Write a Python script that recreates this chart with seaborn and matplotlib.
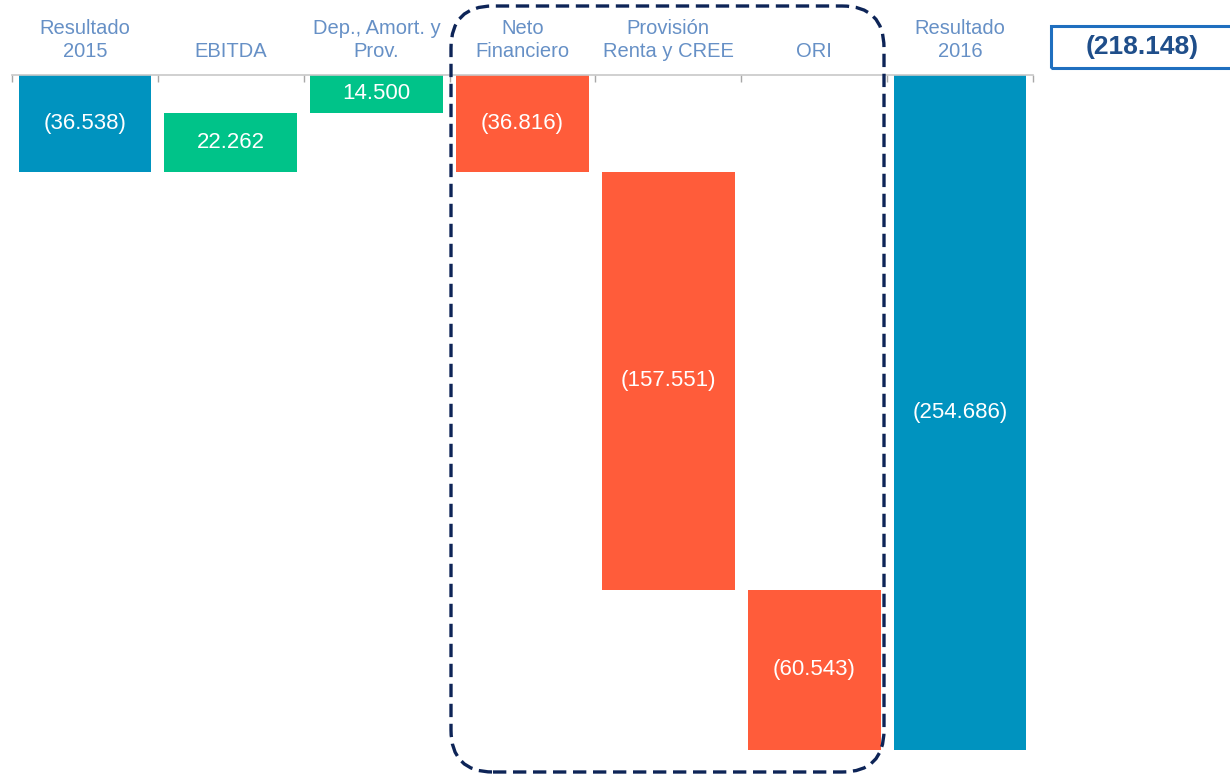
import matplotlib
matplotlib.use("Agg")
import matplotlib.pyplot as plt
from matplotlib.patches import FancyBboxPatch, Rectangle
from matplotlib.transforms import IdentityTransform
import seaborn as sns
import pandas as pd
import numpy as np

# Data (miles de millones)
categories = ["Resultado\n2015", "EBITDA", "Dep., Amort. y\nProv.", "Neto\nFinanciero",
              "Provisión\nRenta y CREE", "ORI", "Resultado\n2016"]
values = [-36.538, 22.262, 14.500, -36.816, -157.551, -60.543, -254.686]
kinds = ["total", "up", "up", "down", "down", "down", "total"]
highlight_text = "(218.148)"

colors = {"total": "#0093BF", "up": "#00C389", "down": "#FF5C3A"}
label_color = "#6690C6"

# Waterfall bottoms
bottoms = []
running = 0.0
for v, k in zip(values, kinds):
    if k == "total":
        bottoms.append(0.0)
        running = v
    else:
        bottoms.append(running)
        running += v

df = pd.DataFrame({"cat": categories, "value": values, "kind": kinds})

sns.set_theme(style="white")
plt.rcParams["font.family"] = ["Liberation Sans", "DejaVu Sans"]

W, H = 1230, 776
fig = plt.figure(figsize=(W / 100, H / 100), dpi=100)
ax = fig.add_axes([12 / W, 26 / H, 1021 / W, 675 / H])

sns.barplot(data=df, x="cat", y="value", hue="kind", palette=colors, dodge=False,
            width=0.91, legend=False, ax=ax, saturation=1, order=categories)

# shift bars to their waterfall bottoms
for p in ax.patches:
    cx = p.get_x() + p.get_width() / 2
    i = int(round(cx))
    p.set_y(bottoms[i])
    p.set_height(values[i])
    p.set_edgecolor("none")

for i, (v, b) in enumerate(zip(values, bottoms)):
    txt = f"({abs(v):.3f})" if v < 0 else f"{v:.3f}"
    ax.text(i, b + v / 2, txt, ha="center", va="center", color="white", fontsize=16)

ax.set_xlim(-0.5, len(categories) - 0.5)
ax.set_ylim(values[-1], 0)
ax.set_xlabel("")
ax.set_ylabel("")
ax.set_yticks([])

for s in ["left", "right", "bottom"]:
    ax.spines[s].set_visible(False)
ax.spines["top"].set_color("#C8C8C8")
ax.spines["top"].set_linewidth(1.2)

ax.xaxis.tick_top()
ax.set_xticks(range(len(categories)))
ax.set_xticklabels(categories, color=label_color, fontsize=14.5, linespacing=1.28)
ax.tick_params(axis="x", which="major", length=0, pad=10, top=True, bottom=False)
ax.set_xticks(np.arange(-0.5, len(categories)), minor=True)
ax.tick_params(axis="x", which="minor", length=5, direction="in", color="#A8A8A8",
               width=1, top=True, bottom=False)

# dashed rounded highlight around the financial items (pixel coordinates)
box = FancyBboxPatch((451, H - 772), 433, 766,
                     boxstyle="round,pad=0,rounding_size=42", transform=IdentityTransform(),
                     fill=False, edgecolor="#0D2457", linewidth=2.4, linestyle=(0, (4, 2)),
                     zorder=5)
fig.patches.append(box)

# result box at the right
rect = Rectangle((1051 / W, 708 / H), 182 / W, 42 / H, transform=fig.transFigure,
                 fill=False, edgecolor="#1F6FBF", linewidth=2.2)
fig.patches.append(rect)
fig.text(1142 / W, 729 / H, highlight_text, ha="center", va="center",
         fontsize=19, fontweight="bold", color="#1F4E8A")

fig.savefig("out.png", dpi=100)
